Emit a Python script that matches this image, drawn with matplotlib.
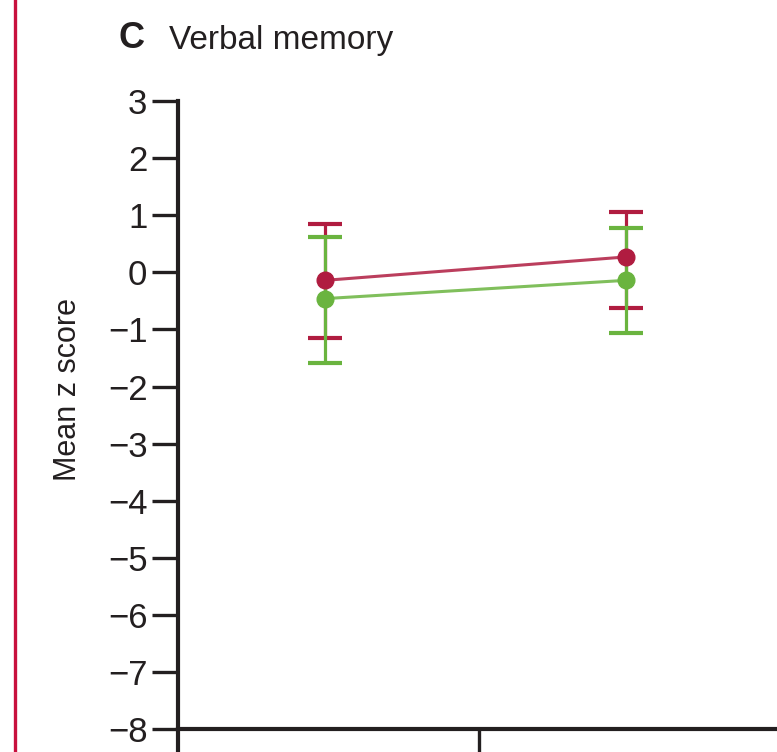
import matplotlib
matplotlib.use("Agg")
import matplotlib.pyplot as plt

# Group means and error-bar limits (mean z score) at the two time points
timepoints = ["Baseline", "Follow-up"]
red_mean = [-0.14, 0.27]
red_low = [-1.15, -0.62]
red_high = [0.85, 1.06]
green_mean = [-0.46, -0.14]
green_low = [-1.59, -1.07]
green_high = [0.62, 0.77]
yticks = list(range(-8, 4))

RED = "#B01C40"
GREEN = "#6AB43F"
INK = "#231F20"

plt.rcParams["font.family"] = ["Liberation Sans Narrow", "Liberation Sans", "DejaVu Sans"]

W, H = 777, 752
fig = plt.figure(figsize=(W / 100, H / 100), dpi=100)

# axes: left spine at x=178 px, value 3 at y=101 px, x units of 301 px
ax = fig.add_axes([178 / W, 0, 602 / W, (H - 101) / H])
ax.set_xlim(0, 2)
ax.set_ylim(-8.4, 3)

xpos = [0.49, 1.49]

for mean, lo, hi, col, z in [(red_mean, red_low, red_high, RED, 2),
                             (green_mean, green_low, green_high, GREEN, 3)]:
    yerr = [[m - l for m, l in zip(mean, lo)], [h - m for m, h in zip(mean, hi)]]
    ax.errorbar(xpos, mean, yerr=yerr, fmt="none", ecolor=col, elinewidth=2.3,
                capsize=12, capthick=3, zorder=z)
    ax.plot(xpos, mean, color=col, lw=2.2, alpha=0.85, zorder=z)
for mean, col in [(green_mean, GREEN), (red_mean, RED)]:
    ax.plot(xpos, mean, "o", color=col, ms=12, mec=col, zorder=5)

for s in ["top", "right"]:
    ax.spines[s].set_visible(False)
ax.spines["left"].set_linewidth(3)
ax.spines["left"].set_color(INK)
ax.spines["left"].set_bounds(-8.4, 3)
ax.spines["bottom"].set_position(("data", -8))
ax.spines["bottom"].set_linewidth(3)
ax.spines["bottom"].set_color(INK)

ax.set_yticks(yticks)
ax.set_yticklabels([str(t).replace("-", "\u2212") for t in yticks])
ax.set_xticks([1])
ax.set_xticklabels([""])
ax.tick_params(axis="y", direction="out", length=19, width=2.4, color=INK,
               labelsize=25, labelcolor=INK, pad=3)
ax.tick_params(axis="x", direction="out", length=20, width=2.4, color=INK)

ax.set_ylabel("Mean z score", fontsize=22, color=INK)
ax.yaxis.set_label_coords(83 / W, 1 - 390 / H, transform=fig.transFigure)

fig.text(118 / W, 1 - 38 / H, "C", fontsize=26, fontweight="bold", color=INK, va="center")
fig.text(169 / W, 1 - 40 / H, "Verbal memory", fontsize=24, color=INK, va="center")

# red rule at the left edge
fig.add_artist(plt.Line2D([15 / W, 15 / W], [0, 1], color="#C8103E", lw=2.4,
                          transform=fig.transFigure))

fig.savefig("out.png", dpi=100)
